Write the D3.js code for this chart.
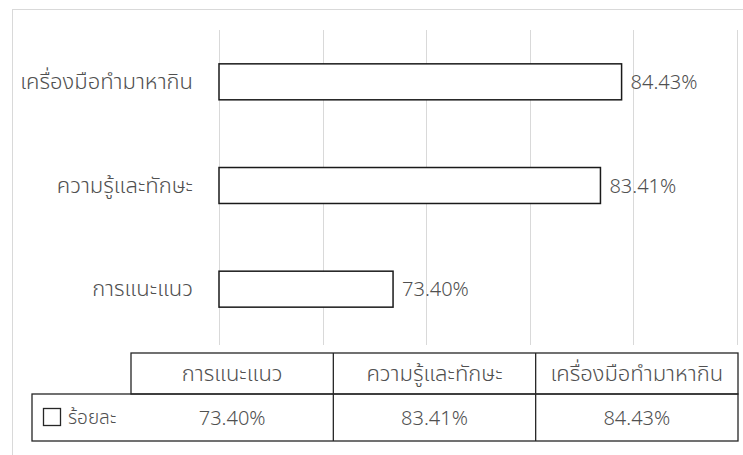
<!DOCTYPE html>
<html>
<head>
<meta charset="utf-8">
<script src="https://cdn.jsdelivr.net/npm/d3@7/dist/d3.min.js"></script>
<style>
  html, body { margin: 0; padding: 0; background: #fff; }
  svg { display: block; }
  text { font-family: "Leelawadee UI", "Noto Sans Thai", "Noto Sans", Tahoma, sans-serif; font-weight: 300; }
</style>
</head>
<body>
<svg id="chart" width="743" height="455"></svg>
<script>
// Categories in table order (bottom bar first)
const categories = ["การแนะแนว", "ความรู้และทักษะ", "เครื่องมือทำมาหากิน"];
// Percent values per category
const values = [73.40, 83.41, 84.43];
const seriesName = "ร้อยละ";
// Value axis range and gridline positions
const axisDomain = [65, 90];
const gridTicks = [65, 70, 75, 80, 85, 90];

const fmt = v => v.toFixed(2) + "%";
const textColor = "#505050";
const thaiSize = "22px";
const numSize = "20px";

const svg = d3.select("#chart");

// chart area border
svg.append("rect")
  .attr("x", 12.5).attr("y", 9.5)
  .attr("width", 760).attr("height", 460)
  .attr("fill", "#fff")
  .attr("stroke", "#d9d9d9").attr("stroke-width", 1);

const plot = { left: 219, right: 737, top: 30, bottom: 341 };

const x = d3.scaleLinear().domain(axisDomain).range([plot.left, plot.right]);

// top-to-bottom order is the reverse of the table order
const y = d3.scaleBand()
  .domain(categories.slice().reverse())
  .range([plot.top, plot.bottom])
  .paddingInner(0.653)
  .paddingOuter(0.3265);

// vertical gridlines
svg.append("g")
  .selectAll("line")
  .data(gridTicks)
  .join("line")
  .attr("x1", d => Math.round(x(d)) + 0.5)
  .attr("x2", d => Math.round(x(d)) + 0.5)
  .attr("y1", plot.top)
  .attr("y2", plot.bottom + 4)
  .attr("stroke", "#d9d9d9")
  .attr("stroke-width", 1);

// category axis labels
const yAxis = d3.axisLeft(y).tickSize(0).tickPadding(26);
const yg = svg.append("g")
  .attr("transform", `translate(${plot.left},0)`)
  .call(yAxis);
yg.select(".domain").remove();
yg.attr("font-family", null).attr("font-size", null);
yg.selectAll("text")
  .attr("fill", textColor)
  .style("font-size", thaiSize);

const rows = categories.map((c, i) => ({ c, v: values[i] }));

// bars
svg.append("g")
  .selectAll("rect")
  .data(rows)
  .join("rect")
  .attr("x", x(axisDomain[0]))
  .attr("y", d => y(d.c))
  .attr("width", d => x(d.v) - x(axisDomain[0]))
  .attr("height", y.bandwidth())
  .attr("fill", "#ffffff")
  .attr("stroke", "#1a1a1a")
  .attr("stroke-width", 1.5);

// value labels
svg.append("g")
  .selectAll("text")
  .data(rows)
  .join("text")
  .attr("x", d => x(d.v) + 9)
  .attr("y", d => y(d.c) + y.bandwidth() / 2)
  .attr("dy", "0.35em")
  .attr("fill", textColor)
  .style("font-size", numSize)
  .text(d => fmt(d.v));

// data table
const table = { left: 32, colLeft: 131, right: 738, top: 353, mid: 394, bottom: 441 };
const col = d3.scaleBand()
  .domain(categories)
  .range([table.colLeft, table.right]);

const tg = svg.append("g").attr("fill", "none").attr("stroke", "#262626").attr("stroke-width", 1.3);
// header row
tg.append("rect")
  .attr("x", table.colLeft).attr("y", table.top)
  .attr("width", table.right - table.colLeft).attr("height", table.mid - table.top);
// value row including series cell
tg.append("rect")
  .attr("x", table.left).attr("y", table.mid)
  .attr("width", table.right - table.left).attr("height", table.bottom - table.mid);
// column separators
tg.selectAll("line.sep")
  .data(categories.slice(1))
  .join("line")
  .attr("class", "sep")
  .attr("x1", d => col(d)).attr("x2", d => col(d))
  .attr("y1", table.top).attr("y2", table.bottom);

// header texts
svg.append("g")
  .selectAll("text")
  .data(categories)
  .join("text")
  .attr("x", d => col(d) + col.bandwidth() / 2)
  .attr("y", (table.top + table.mid) / 2)
  .attr("dy", "0.35em")
  .attr("text-anchor", "middle")
  .attr("fill", textColor)
  .style("font-size", thaiSize)
  .text(d => d);

// value texts
svg.append("g")
  .selectAll("text")
  .data(rows)
  .join("text")
  .attr("x", d => col(d.c) + col.bandwidth() / 2)
  .attr("y", (table.mid + table.bottom) / 2)
  .attr("dy", "0.35em")
  .attr("text-anchor", "middle")
  .attr("fill", textColor)
  .style("font-size", numSize)
  .text(d => fmt(d.v));

// legend key and series name
svg.append("rect")
  .attr("x", 43.5).attr("y", 408.5)
  .attr("width", 17).attr("height", 17)
  .attr("fill", "#fff")
  .attr("stroke", "#262626").attr("stroke-width", 1.3);
svg.append("text")
  .attr("x", 68)
  .attr("y", (table.mid + table.bottom) / 2)
  .attr("dy", "0.35em")
  .attr("fill", textColor)
  .style("font-size", "19px")
  .text(seriesName);
</script>
</body>
</html>
